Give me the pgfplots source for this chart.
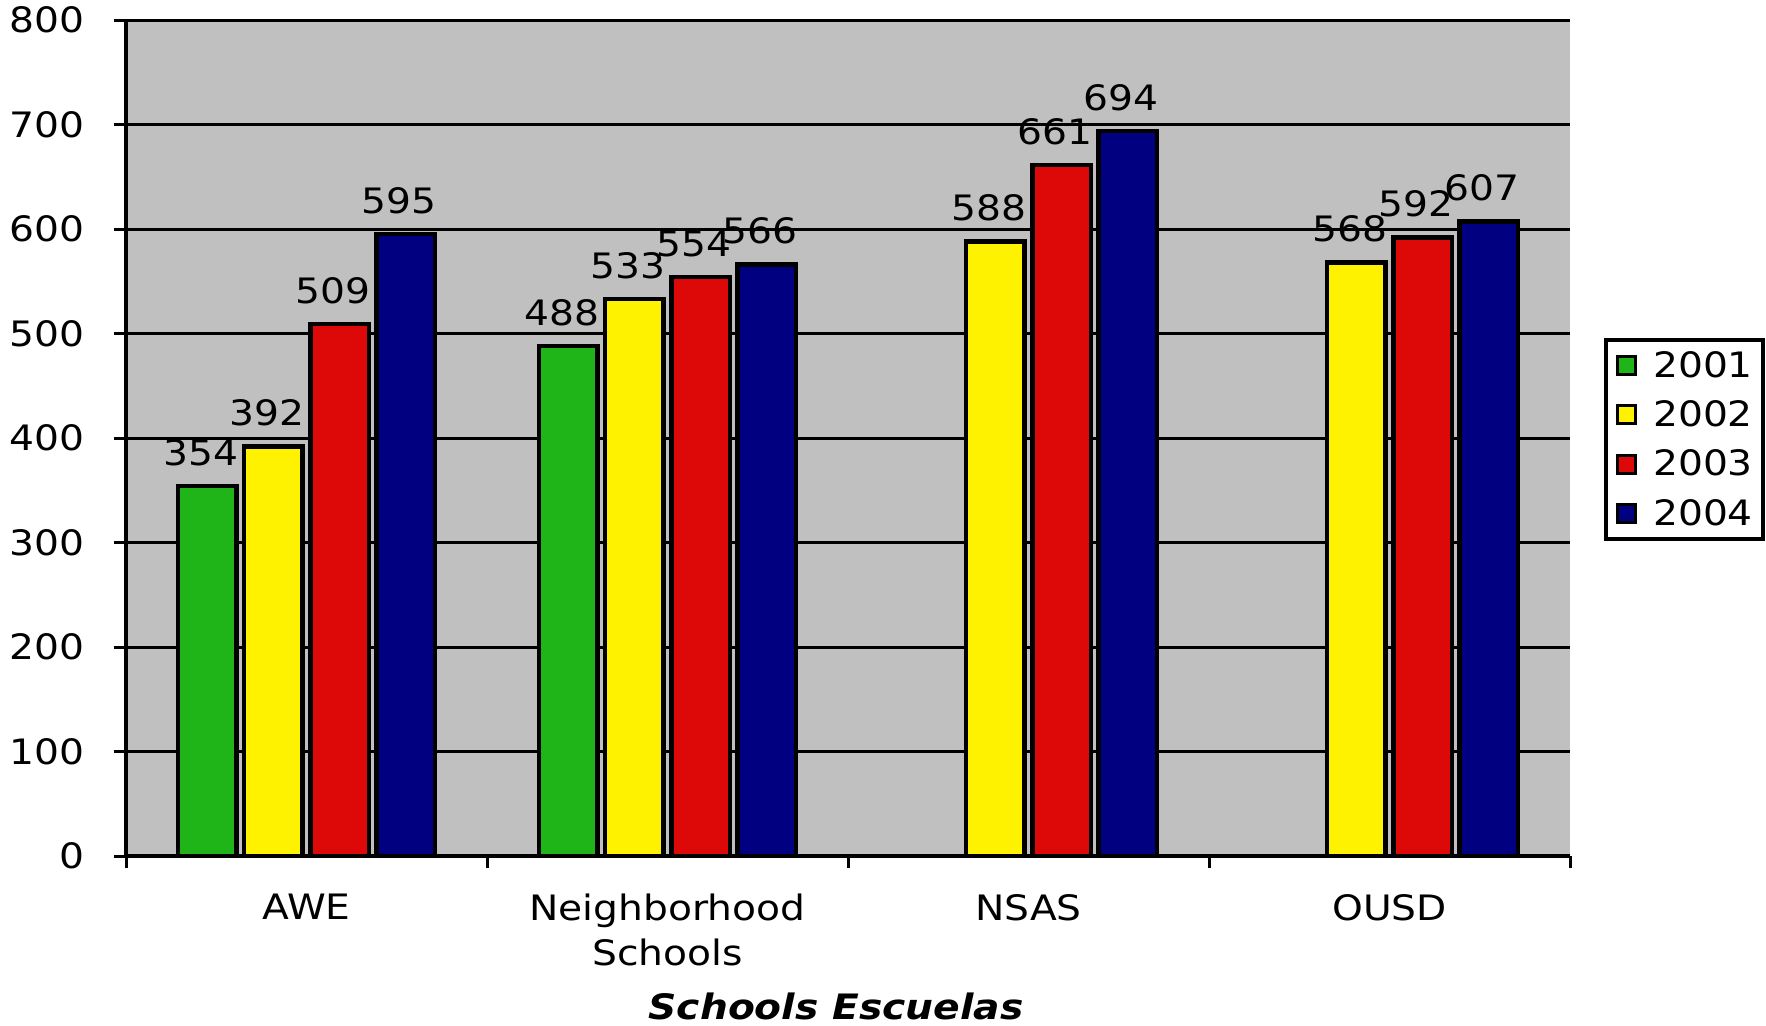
\documentclass[border=0pt]{standalone}
\usepackage{pgfplots}
\pgfplotsset{compat=1.18}
\usepackage{fontspec}
\setmainfont{DejaVu Sans}[FakeStretch=1.12]
\definecolor{cgreen}{RGB}{31,180,24}
\definecolor{cyellow}{RGB}{255,242,0}
\definecolor{cred}{RGB}{221,8,8}
\definecolor{cnavy}{RGB}{0,0,128}
\definecolor{cgray}{RGB}{192,192,192}
\newcommand\F{\fontsize{17.5}{22.5}\selectfont}
\begin{document}
\begin{tikzpicture}
\path[use as bounding box] (0,0) rectangle (883pt,512.5pt);
\begin{axis}[
  at={(63pt,84.5pt)}, anchor=south west,
  width=722pt, height=418pt, scale only axis,
  /pgf/number format/assume math mode=true,
  xmin=-0.5, xmax=3.5, ymin=0, ymax=800,
  ytick={0,100,...,800},
  xtick={0,1,2,3},
  xticklabels={AWE, Neighborhood\\Schools, NSAS, OUSD},
  minor xtick={-0.5,0.5,1.5,2.5,3.5},
  major x tick style={draw=none},
  minor x tick style={black, line width=1.5pt},
  minor tick length=6pt,
  major tick length=6pt,
  tick align=outside,
  y tick style={black, line width=1.5pt},
  axis x line*=bottom, axis y line*=left,
  axis line style={-, black, line width=1.6pt},
  axis background/.style={fill=cgray},
  ymajorgrids, major grid style={black, line width=1.5pt},
  tick label style={font=\F},
  xticklabel style={align=center, yshift=-9.5pt},
  yticklabel style={xshift=-11.4pt},
  xlabel={\bfseries\itshape Schools Escuelas},
  xlabel style={at={(axis description cs:0.4917,0)}, anchor=center, yshift=-75pt, font=\F, inner sep=0pt},
  ybar, bar width=0.162,
  nodes near coords,
  every node near coord/.append style={font=\F, yshift=5.7pt, xshift=-3.3pt, black},
  legend style={at={(1.0235,0.6196)}, anchor=north west, draw=black, line width=2pt,
     fill=white, font=\F, inner xsep=5pt, inner ysep=5.5pt, row sep=10.2pt, column sep=8pt,
     nodes={inner sep=0pt}},
  legend cell align=left,
  legend image code/.code={\draw[#1, line width=1.6pt, draw=black] (0pt,-4.5pt) rectangle (9pt,4.5pt);},
]
\addplot[fill=cgreen, draw=black, line width=2.2pt, bar shift=-0.275] coordinates {(0,354) (1,488)};
\addplot[fill=cyellow, draw=black, line width=2.2pt, bar shift=-0.092] coordinates {(0,392) (1,533) (2,588) (3,568)};
\addplot[fill=cred, draw=black, line width=2.2pt, bar shift=0.092] coordinates {(0,509) (1,554) (2,661) (3,592)};
\addplot[fill=cnavy, draw=black, line width=2.2pt, bar shift=0.275] coordinates {(0,595) (1,566) (2,694) (3,607)};
\legend{2001,2002,2003,2004}
\end{axis}
\end{tikzpicture}
\end{document}
